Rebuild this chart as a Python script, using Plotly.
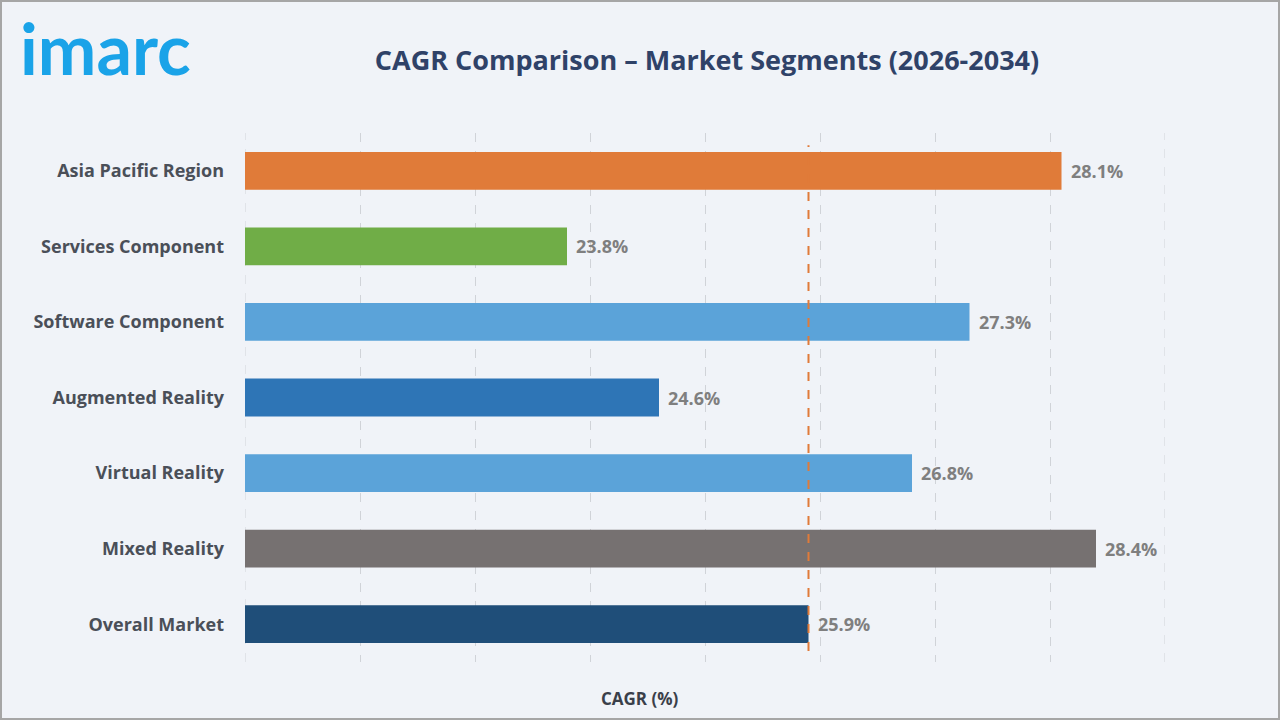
import plotly.graph_objects as go

categories = ["Asia Pacific Region", "Services Component", "Software Component",
              "Augmented Reality", "Virtual Reality", "Mixed Reality", "Overall Market"]
cagr_values = [28.1, 23.8, 27.3, 24.6, 26.8, 28.4, 25.9]
bar_colors = ["#E07B39", "#70AD47", "#5BA3D9", "#2E75B6", "#5BA3D9", "#767171", "#1F4E79"]
reference_value = 25.9
x_min, x_max = 21, 29

L, R, T, B = 245, 115, 133, 58
W, H = 1280, 720
pw, ph = W - L - R, H - T - B

fig = go.Figure()
fig.add_trace(go.Bar(
    x=cagr_values, y=categories, orientation="h",
    marker=dict(color=bar_colors, line=dict(width=0)),
    width=0.5,
    hoverinfo="skip",
))

for cat, v in zip(categories, cagr_values):
    fig.add_annotation(x=v, y=cat, xref="x", yref="y", text=f"{v:.1f}%",
                       showarrow=False, xanchor="left", yanchor="middle", xshift=7,
                       font=dict(family="Open Sans", size=18, color="#7F7F7F", weight="bold"))

fig.add_shape(type="line", xref="x", yref="paper",
              x0=reference_value, x1=reference_value, y0=0.021, y1=0.977,
              line=dict(color="#E07B39", width=2, dash="dash"))

# edge gridlines (plotly omits gridlines at the range ends)
for xv in (x_min, x_max):
    fig.add_shape(type="line", xref="x", yref="paper", x0=xv, x1=xv, y0=0, y1=1,
                  line=dict(color="#D0D3D8", width=1, dash="dash"), layer="below")

# outer border
fig.add_shape(type="rect", xref="paper", yref="paper",
              x0=(-L + 1) / pw, x1=(W - L - 1) / pw,
              y0=(-B + 1) / ph, y1=(H - B - 1) / ph,
              line=dict(color="#A6A6A6", width=2), fillcolor="rgba(0,0,0,0)", layer="above")

fig.add_annotation(text="imarc", xref="paper", yref="paper",
                   x=(18 - L) / pw, y=(H - B - 48) / ph, xanchor="left", yanchor="middle",
                   showarrow=False,
                   font=dict(family="Lato", size=70, color="#1AA3E8", weight="bold"))

fig.add_annotation(text="CAGR (%)", xref="paper", yref="paper",
                   x=(640 - L) / pw, y=(H - B - 698) / ph, xanchor="center", yanchor="middle",
                   showarrow=False,
                   font=dict(family="Open Sans", size=17, color="#3A3F4A", weight="bold"))

fig.update_layout(
    width=W, height=H,
    margin=dict(l=L, r=R, t=T, b=B, pad=0),
    paper_bgcolor="#F0F3F8", plot_bgcolor="#F0F3F8",
    showlegend=False,
    title=dict(text="CAGR Comparison – Market Segments (2026-2034)",
               x=707 / W, xanchor="center", y=1 - 61 / H, yanchor="middle",
               font=dict(family="Open Sans", size=27, color="#2F4268", weight="bold")),
    xaxis=dict(range=[x_min, x_max], dtick=1, tick0=x_min, showticklabels=False,
               showgrid=True, gridcolor="#D0D3D8", griddash="dash", gridwidth=1,
               zeroline=False, showline=False, ticks=""),
    yaxis=dict(categoryorder="array", categoryarray=categories, autorange="reversed",
               showgrid=False, zeroline=False, showline=False, ticks="",
               ticklabelstandoff=20,
               tickfont=dict(family="Open Sans", size=18, color="#4A4F58", weight="bold")),
)

fig.write_html("out.html")
